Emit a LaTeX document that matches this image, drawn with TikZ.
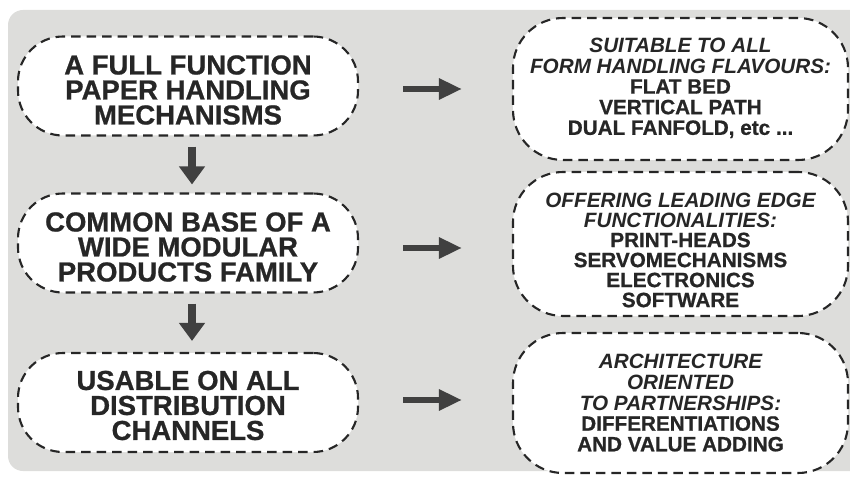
\documentclass[tikz,border=0pt]{standalone}
\usepackage{fontspec}
\setmainfont[BoldFeatures={FakeBold=0.8}]{Liberation Sans}
\usetikzlibrary{arrows.meta}
\definecolor{bggray}{HTML}{DDDDDB}
\definecolor{inkc}{HTML}{262626}
\definecolor{arrowc}{HTML}{404040}
\tikzset{
  dashline/.style={draw=inkc, fill=white, line width=2.1pt, dash pattern=on 9.5pt off 6pt},
  leftbox/.style={dashline, rounded corners=45pt, minimum width=340pt, minimum height=99pt, inner sep=0pt},
  rightbox/.style={dashline, rounded corners=50pt, minimum width=335pt, inner sep=0pt},
  lefttext/.style={align=center, text=inkc, inner sep=0pt, font=\fontsize{27.5}{25}\selectfont\bfseries},
  righttext/.style={align=center, text=inkc, inner sep=0pt, font=\fontsize{20.7}{20.6}\selectfont\bfseries},
  harrow/.style={draw=arrowc, line width=6pt, -{Triangle[length=23pt,width=20pt]}},
  varrow/.style={draw=arrowc, line width=8pt, -{Triangle[length=18pt,width=25pt]}}
}
\begin{document}
\begin{tikzpicture}[x=1pt,y=-1pt]
\useasboundingbox (0,0) rectangle (850,478);
\fill[bggray, rounded corners=15pt] (8,10) rectangle (880,471);

\node[leftbox] (L1) at (188,86) {};
\node[leftbox] (L2) at (188,243) {};
\node[leftbox] (L3) at (188,402.5) {};
\node[lefttext] (L1t) at ([yshift=-4pt]L1.center) {A FULL FUNCTION\\PAPER HANDLING\\MECHANISMS};
\node[lefttext] (L2t) at ([yshift=-4pt]L2.center) {COMMON BASE OF A\\WIDE MODULAR\\PRODUCTS FAMILY};
\node[lefttext] (L3t) at ([yshift=-3pt]L3.center) {USABLE ON ALL\\DISTRIBUTION\\CHANNELS};

\node[rightbox, minimum height=142pt] (R1) at (680.5,89) {};
\node[rightbox, minimum height=144pt] (R2) at (680.5,244) {};
\node[rightbox, minimum height=140pt] (R3) at (680.5,403) {};
\node[righttext] (R1t) at ([yshift=1pt]R1.center)
  {\itshape SUITABLE TO ALL\\\itshape FORM HANDLING FLAVOURS:\\FLAT BED\\VERTICAL PATH\\DUAL FANFOLD, etc ...};
\node[righttext, font=\fontsize{20.7}{20}\selectfont\bfseries] (R2t) at ([yshift=-6pt]R2.center)
  {\itshape OFFERING LEADING EDGE\\\itshape FUNCTIONALITIES:\\PRINT-HEADS\\SERVOMECHANISMS\\ELECTRONICS\\SOFTWARE};
\node[righttext] (R3t) at (R3.center)
  {\itshape ARCHITECTURE\\\itshape ORIENTED\\\itshape TO PARTNERSHIPS:\\DIFFERENTIATIONS\\AND VALUE ADDING};

\draw[harrow, shorten <=44pt, shorten >=50pt] (L1.east |- R1.west) -- (R1.west);
\draw[harrow, shorten <=44pt, shorten >=50pt] (L2.east |- 0,248) -- (R2.west |- 0,248);
\draw[harrow, shorten <=44pt, shorten >=50pt] (L3.east |- 0,400) -- (R3.west |- 0,400);

\draw[varrow, shorten <=10pt, shorten >=8pt] ([xshift=4pt]L1.south) -- ([xshift=4pt]L2.north);
\draw[varrow, shorten <=10pt, shorten >=11pt] ([xshift=4pt]L2.south) -- ([xshift=4pt]L3.north);
\end{tikzpicture}
\end{document}
